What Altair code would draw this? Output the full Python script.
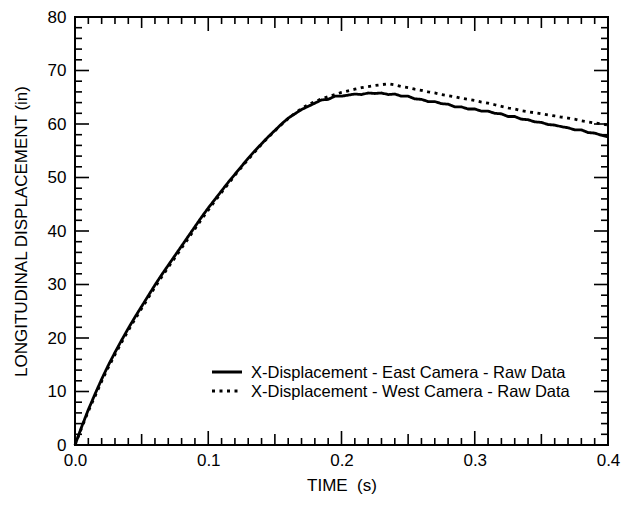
import altair as alt
import pandas as pd

# ---- data ----
time_s = [0.000, 0.005, 0.010, 0.015, 0.020, 0.025, 0.030, 0.035, 0.040, 0.045,
          0.050, 0.055, 0.060, 0.065, 0.070, 0.075, 0.080, 0.085, 0.090, 0.095,
          0.100, 0.105, 0.110, 0.115, 0.120, 0.125, 0.130, 0.135, 0.140, 0.145,
          0.150, 0.155, 0.160, 0.165, 0.170, 0.175, 0.180, 0.185, 0.190, 0.195,
          0.200, 0.205, 0.210, 0.215, 0.220, 0.225, 0.230, 0.235, 0.240, 0.245,
          0.250, 0.255, 0.260, 0.265, 0.270, 0.275, 0.280, 0.285, 0.290, 0.295,
          0.300, 0.305, 0.310, 0.315, 0.320, 0.325, 0.330, 0.335, 0.340, 0.345,
          0.350, 0.355, 0.360, 0.365, 0.370, 0.375, 0.380, 0.385, 0.390, 0.395,
          0.400]

east = [0.0, 3.4, 6.6, 9.5, 12.3, 14.9, 17.3, 19.6, 21.8, 23.9,
        25.9, 27.9, 29.9, 31.8, 33.6, 35.4, 37.2, 39.0, 40.8, 42.6,
        44.3, 45.9, 47.5, 49.1, 50.6, 52.1, 53.6, 55.0, 56.3, 57.6,
        58.8, 60.0, 61.1, 61.9, 62.7, 63.3, 63.9, 64.5, 64.6, 65.2,
        65.2, 65.4, 65.6, 65.5, 65.8, 65.7, 65.8, 65.5, 65.6, 65.2,
        65.2, 64.7, 64.6, 64.2, 64.2, 63.8, 63.7, 63.2, 63.2, 62.8,
        62.8, 62.4, 62.4, 62.0, 61.9, 61.4, 61.4, 60.9, 60.8, 60.4,
        60.3, 59.9, 59.8, 59.5, 59.3, 58.9, 58.9, 58.4, 58.3, 57.9,
        57.6]

west = [0.0, 3.2, 6.3, 9.1, 11.9, 14.5, 16.9, 19.2, 21.4, 23.5,
        25.5, 27.5, 29.5, 31.4, 33.2, 35.0, 36.8, 38.6, 40.4, 42.2,
        43.9, 45.6, 47.2, 48.8, 50.4, 51.9, 53.4, 54.8, 56.2, 57.5,
        58.7, 59.9, 61.0, 62.0, 62.9, 63.6, 64.2, 64.7, 65.1, 65.5,
        65.9, 66.2, 66.5, 66.8, 67.0, 67.2, 67.35, 67.5, 67.3, 67.0,
        66.8, 66.5, 66.3, 66.0, 65.8, 65.5, 65.3, 65.1, 64.8, 64.6,
        64.4, 64.1, 63.9, 63.6, 63.3, 63.0, 62.8, 62.5, 62.3, 62.1,
        61.9, 61.7, 61.5, 61.3, 61.1, 60.9, 60.6, 60.4, 60.2, 60.0,
        59.8]

series_names = ["X-Displacement - East Camera - Raw Data",
                "X-Displacement - West Camera - Raw Data"]

x_major = [0.0, 0.1, 0.2, 0.3, 0.4]
x_mid = [0.05, 0.15, 0.25, 0.35]
x_minor = [0.01, 0.02, 0.03, 0.04, 0.06, 0.07, 0.08, 0.09,
           0.11, 0.12, 0.13, 0.14, 0.16, 0.17, 0.18, 0.19,
           0.21, 0.22, 0.23, 0.24, 0.26, 0.27, 0.28, 0.29,
           0.31, 0.32, 0.33, 0.34, 0.36, 0.37, 0.38, 0.39]
y_major = [0, 10, 20, 30, 40, 50, 60, 70, 80]
y_minor = [2, 4, 6, 8, 12, 14, 16, 18, 22, 24, 26, 28, 32, 34, 36, 38,
           42, 44, 46, 48, 52, 54, 56, 58, 62, 64, 66, 68, 72, 74, 76, 78]

# ---- layout ----
W, H = 533, 428
FONT = "Liberation Sans"
DASHES = [[1, 0], [3, 4.5]]

df = pd.concat([
    pd.DataFrame({"t": time_s, "d": east, "s": series_names[0]}),
    pd.DataFrame({"t": time_s, "d": west, "s": series_names[1]}),
], ignore_index=True)

xs = alt.Scale(domain=[0, 0.4], nice=False, zero=False)
ys = alt.Scale(domain=[0, 80], nice=False)

x_axis = alt.Axis(values=x_major, format=".1f", title="TIME \u00a0(s)",
                  ticks=False, domain=False, grid=False, labelFlush=False,
                  labelPadding=7, titlePadding=9)
y_axis = alt.Axis(values=y_major, title="LONGITUDINAL DISPLACEMENT (in)",
                  ticks=False, domain=False, grid=False, labelFlush=False,
                  labelPadding=9, titlePadding=17)

lines = alt.Chart(df).mark_line(color="black", strokeWidth=2.8, strokeCap="butt").encode(
    x=alt.X("t:Q", scale=xs, axis=x_axis),
    y=alt.Y("d:Q", scale=ys, axis=y_axis),
    strokeDash=alt.StrokeDash("s:N", scale=alt.Scale(domain=series_names, range=DASHES),
                              legend=None),
)


def xticks(vals, length, top):
    d = pd.DataFrame({"t": vals})
    if top:
        yy, yy2 = alt.value(0), alt.value(length)
    else:
        yy, yy2 = alt.value(H), alt.value(H - length)
    return alt.Chart(d).mark_rule(color="black", strokeWidth=1.6).encode(
        x=alt.X("t:Q", scale=xs, axis=x_axis), y=yy, y2=yy2)


def yticks(vals, length, right):
    d = pd.DataFrame({"d": vals})
    if right:
        xx, xx2 = alt.value(W), alt.value(W - length)
    else:
        xx, xx2 = alt.value(0), alt.value(length)
    return alt.Chart(d).mark_rule(color="black", strokeWidth=1.6).encode(
        y=alt.Y("d:Q", scale=ys, axis=y_axis), x=xx, x2=xx2)


tick_layers = [
    xticks(x_major, 14, False), xticks(x_mid, 11, False), xticks(x_minor, 7, False),
    xticks(x_major, 14, True), xticks(x_mid, 11, True), xticks(x_minor, 7, True),
    yticks(y_major, 14, False), yticks(y_minor, 7, False),
    yticks(y_major, 14, True), yticks(y_minor, 7, True),
]

# ---- in-plot legend (key lines + labels) ----
legend_layers = []
for i, (name, dash) in enumerate(zip(series_names, DASHES)):
    row_y = 355 + 19 * i
    ld = pd.DataFrame({"s": [name]})
    legend_layers.append(
        alt.Chart(ld).mark_rule(color="black", strokeWidth=2.8, strokeDash=dash,
                                strokeCap="butt").encode(
            x=alt.value(137), x2=alt.value(167), y=alt.value(row_y))
    )
    legend_layers.append(
        alt.Chart(ld).mark_text(align="left", baseline="middle", font=FONT,
                                fontSize=16.5, color="black").encode(
            x=alt.value(176), y=alt.value(row_y + 1), text="s:N")
    )

chart = alt.layer(lines, *tick_layers, *legend_layers).properties(
    width=W, height=H,
    autosize=alt.AutoSizeParams(type="none"),
    padding={"left": 75, "top": 17, "right": 15, "bottom": 61},
    background="white",
).configure_view(
    stroke="black", strokeWidth=2
).configure_axis(
    labelFont=FONT, titleFont=FONT, labelFontSize=17, titleFontSize=17,
    labelColor="black", titleColor="black", titleFontWeight="normal",
)

chart.save("out.html", embed_options={"renderer": "svg", "actions": False})
